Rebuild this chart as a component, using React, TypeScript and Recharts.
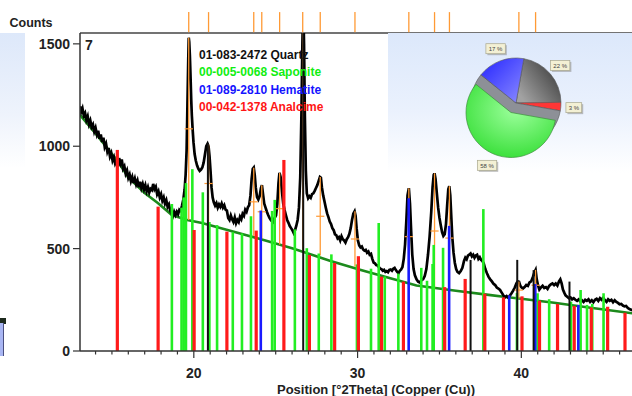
import React from 'react';
import { ComposedChart, Line, XAxis, YAxis, ReferenceLine, PieChart, Pie, Cell } from 'recharts';

// scan (2theta, counts)
const scan: [number, number][] = [
  [13.05, 1195], [13.12, 1168], [13.2, 1185], [13.28, 1150], [13.36, 1162], [13.44, 1128], [13.52, 1146], [13.6, 1108],
  [13.68, 1126], [13.76, 1094], [13.84, 1106], [13.92, 1072], [14.0, 1090], [14.08, 1058], [14.16, 1076], [14.24, 1036],
  [14.32, 1058], [14.4, 1020], [14.48, 1042], [14.56, 996], [14.64, 1012], [14.72, 974], [14.8, 992], [14.88, 950],
  [14.96, 966], [15.04, 930], [15.12, 946], [15.2, 914], [15.28, 926], [15.36, 902], [15.44, 942], [15.52, 916],
  [15.6, 936], [15.68, 890], [15.76, 902], [15.84, 866], [15.92, 882], [16.0, 846], [16.08, 862], [16.16, 830],
  [16.24, 850], [16.32, 820], [16.4, 842], [16.48, 814], [16.56, 832], [16.64, 800], [16.72, 826], [16.8, 796],
  [16.88, 816], [16.96, 790], [17.04, 810], [17.12, 780], [17.2, 800], [17.28, 774], [17.36, 792], [17.44, 786],
  [17.52, 816], [17.6, 790], [17.68, 802], [17.76, 766], [17.84, 780], [17.92, 750], [18.0, 766], [18.08, 734],
  [18.16, 750], [18.24, 720], [18.32, 736], [18.4, 704], [18.48, 716], [18.56, 686], [18.64, 670], [18.72, 658],
  [18.8, 680], [18.88, 664], [18.96, 680], [19.04, 668], [19.12, 690], [19.2, 684], [19.28, 710], [19.36, 740],
  [19.44, 790], [19.5, 860], [19.56, 980], [19.61, 1200], [19.66, 1420], [19.69, 1530], [19.72, 1510], [19.76, 1440],
  [19.8, 1340], [19.84, 1230], [19.88, 1150], [19.93, 1080], [19.98, 1020], [20.05, 962], [20.12, 930], [20.2, 906],
  [20.28, 890], [20.36, 880], [20.44, 886], [20.52, 896], [20.6, 920], [20.68, 960], [20.76, 1000], [20.84, 1012],
  [20.9, 1000], [20.96, 950], [21.02, 880], [21.08, 800], [21.15, 750], [21.22, 726], [21.3, 710], [21.38, 722],
  [21.46, 700], [21.54, 716], [21.62, 704], [21.7, 720], [21.78, 700], [21.86, 712], [21.94, 690], [22.02, 686],
  [22.1, 650], [22.18, 640], [22.26, 662], [22.34, 644], [22.42, 630], [22.5, 652], [22.58, 624], [22.66, 640],
  [22.74, 630], [22.82, 656], [22.9, 644], [22.98, 670], [23.06, 660], [23.14, 690], [23.22, 680], [23.3, 702],
  [23.38, 712], [23.46, 760], [23.53, 840], [23.6, 890], [23.66, 896], [23.72, 860], [23.78, 800], [23.86, 752],
  [23.94, 740], [24.02, 756], [24.1, 796], [24.16, 810], [24.22, 770], [24.3, 720], [24.38, 700], [24.46, 680],
  [24.54, 664], [24.62, 650], [24.7, 640], [24.78, 646], [24.86, 634], [24.94, 650], [25.02, 662], [25.1, 720],
  [25.17, 820], [25.23, 870], [25.3, 850], [25.38, 780], [25.46, 720], [25.54, 690], [25.62, 664], [25.7, 640],
  [25.78, 626], [25.86, 610], [25.94, 600], [26.02, 590], [26.1, 576], [26.18, 590], [26.26, 612], [26.34, 640],
  [26.42, 700], [26.5, 850], [26.57, 1150], [26.63, 1500], [26.68, 1700], [26.73, 1500], [26.78, 1150], [26.84, 880],
  [26.9, 770], [26.98, 746], [27.06, 756], [27.14, 748], [27.22, 766], [27.3, 770], [27.38, 782], [27.46, 796],
  [27.54, 810], [27.62, 830], [27.7, 850], [27.76, 846], [27.82, 800], [27.9, 760], [27.98, 730], [28.06, 700],
  [28.14, 672], [28.22, 654], [28.3, 632], [28.38, 620], [28.46, 600], [28.54, 590], [28.62, 570], [28.7, 566],
  [28.78, 550], [28.86, 556], [28.94, 540], [29.02, 560], [29.1, 546], [29.18, 540], [29.26, 530], [29.34, 546],
  [29.42, 556], [29.5, 572], [29.58, 600], [29.66, 640], [29.74, 670], [29.82, 682], [29.88, 660], [29.94, 600],
  [30.02, 540], [30.1, 516], [30.18, 506], [30.26, 510], [30.34, 496], [30.42, 490], [30.5, 494], [30.58, 480],
  [30.66, 486], [30.74, 470], [30.82, 474], [30.9, 450], [30.98, 432], [31.06, 428], [31.14, 420], [31.22, 418],
  [31.3, 410], [31.38, 402], [31.46, 400], [31.54, 392], [31.62, 396], [31.7, 386], [31.78, 390], [31.86, 385],
  [31.94, 396], [32.02, 398], [32.1, 392], [32.18, 402], [32.26, 406], [32.34, 395], [32.42, 386], [32.5, 380],
  [32.58, 392], [32.66, 398], [32.74, 410], [32.82, 450], [32.9, 520], [32.98, 640], [33.05, 760], [33.13, 795],
  [33.2, 720], [33.27, 590], [33.34, 470], [33.42, 400], [33.5, 370], [33.6, 350], [33.7, 338], [33.8, 334],
  [33.9, 346], [34.0, 350], [34.1, 366], [34.2, 400], [34.3, 470], [34.4, 560], [34.5, 680], [34.58, 800],
  [34.65, 860], [34.7, 868], [34.76, 840], [34.84, 770], [34.92, 700], [35.0, 650], [35.08, 614], [35.16, 580],
  [35.24, 562], [35.32, 570], [35.4, 620], [35.47, 710], [35.54, 790], [35.6, 805], [35.66, 760], [35.72, 660],
  [35.78, 560], [35.86, 480], [35.94, 430], [36.02, 400], [36.1, 386], [36.2, 380], [36.3, 390], [36.4, 406],
  [36.5, 440], [36.58, 456], [36.66, 448], [36.74, 466], [36.82, 470], [36.9, 476], [36.98, 462], [37.06, 470],
  [37.14, 455], [37.22, 466], [37.3, 470], [37.38, 450], [37.46, 458], [37.54, 445], [37.62, 440], [37.7, 428],
  [37.8, 400], [37.9, 380], [38.0, 362], [38.1, 350], [38.2, 340], [38.3, 328], [38.4, 322], [38.5, 310],
  [38.6, 305], [38.7, 298], [38.8, 285], [38.9, 272], [39.0, 262], [39.1, 268], [39.2, 260], [39.3, 270],
  [39.4, 282], [39.5, 295], [39.6, 310], [39.7, 330], [39.78, 340], [39.86, 338], [39.94, 318], [40.02, 310],
  [40.1, 305], [40.2, 312], [40.3, 322], [40.4, 318], [40.5, 335], [40.6, 340], [40.7, 360], [40.8, 385],
  [40.87, 396], [40.94, 350], [41.02, 320], [41.1, 300], [41.2, 310], [41.3, 318], [41.4, 308], [41.5, 312],
  [41.6, 303], [41.7, 318], [41.8, 325], [41.9, 330], [42.0, 322], [42.1, 330], [42.2, 320], [42.3, 340],
  [42.38, 350], [42.46, 330], [42.54, 300], [42.62, 285], [42.7, 272], [42.8, 265], [42.9, 258], [43.0, 262],
  [43.1, 252], [43.2, 258], [43.3, 250], [43.4, 245], [43.5, 252], [43.6, 242], [43.7, 248], [43.8, 240],
  [43.9, 250], [44.0, 245], [44.1, 252], [44.2, 240], [44.3, 248], [44.4, 238], [44.5, 250], [44.6, 255],
  [44.7, 245], [44.8, 258], [44.9, 250], [45.0, 260], [45.1, 248], [45.2, 240], [45.3, 252], [45.4, 245],
  [45.5, 250], [45.6, 238], [45.7, 248], [45.8, 240], [45.9, 235], [46.0, 228], [46.1, 230], [46.2, 222],
  [46.3, 218], [46.4, 220], [46.5, 210], [46.6, 205], [46.7, 202], [46.8, 198],
];

// fitted background
const background: [number, number][] = [
  [13.05, 1153], [14.0, 1062], [15.0, 962], [15.4, 923], [16.0, 848], [17.0, 772], [17.82, 722], [18.66, 664],
  [19.6, 640], [20.5, 625], [22.0, 592], [24.0, 548], [26.0, 502], [28.35, 440], [30.2, 396], [32.0, 355],
  [33.6, 320], [36.0, 294], [38.0, 274], [40.0, 255], [42.0, 236], [44.0, 214], [46.8, 184],
];

// reference patterns: [position, height]
const quartz: [number, number][] = [[20.86, 1015], [26.68, 1700], [36.9, 445], [39.75, 445], [40.75, 395], [42.94, 339]];
const saponite: [number, number][] = [
  [18.66, 718], [19.25, 700], [19.38, 750], [19.52, 820], [19.91, 888], [20.55, 775], [20.95, 630], [21.42, 615],
  [22.38, 580], [22.94, 574], [23.49, 658], [24.78, 684], [24.94, 738], [26.17, 594], [26.9, 502], [27.63, 476],
  [28.4, 472], [29.96, 423], [30.82, 402], [31.29, 625], [31.66, 364], [32.49, 378], [33.89, 406], [34.24, 343],
  [34.58, 425], [34.65, 518], [35.22, 504], [37.68, 693], [39.73, 283], [40.99, 282], [41.7, 253], [43.03, 241],
  [43.62, 298], [44.01, 225], [44.33, 230], [45.02, 282],
];
const hematite: [number, number][] = [[24.09, 686], [33.12, 746], [35.59, 611], [39.26, 272], [40.85, 327], [43.48, 225]];
const analcime: [number, number][] = [
  [15.33, 982], [17.82, 705], [20.02, 591], [22.02, 583], [23.81, 588], [25.5, 933], [27.06, 469], [28.6, 430],
  [30.05, 463], [31.46, 363], [32.8, 339], [35.32, 312], [36.57, 352], [37.77, 280], [38.91, 262], [40.04, 267],
  [41.11, 246], [42.21, 230], [43.23, 220], [44.27, 213], [45.27, 216], [46.33, 187],
];

// identified peaks: [position, background, top]
const peaks: [number, number, number][] = [
  [19.69, 640, 1530], [20.9, 626, 1010], [23.66, 562, 895], [24.15, 550, 810], [25.24, 520, 870], [26.65, 492, 1700],
  [27.72, 466, 850], [29.84, 412, 682], [33.13, 322, 795], [34.7, 304, 868], [35.61, 298, 805], [39.85, 255, 340],
  [40.87, 246, 396],
];

const phases = [
  { code: '01-083-2472', name: 'Quartz', color: '#111111' },
  { code: '00-005-0068', name: 'Saponite', color: '#11ee11' },
  { code: '01-089-2810', name: 'Hematite', color: '#1515ff' },
  { code: '00-042-1378', name: 'Analcime', color: '#ff1515' },
];

const pieData = [
  { name: 'Quartz', value: 22 },
  { name: 'Analcime', value: 3 },
  { name: 'Saponite', value: 58 },
  { name: 'Hematite', value: 17 },
];

const xTicks = Array.from({ length: 36 }, (_, i) => 14 + i);
const yTicks = [0, 500, 1000, 1500];
const X_MIN = 13.05;
const X_MAX = 49.2;
const Y_MAX = 1553;
const FONT = '"Liberation Sans", Arial, sans-serif';
const ORANGE = '#ff9a35';

const scanData = scan.map(([t, c]) => ({ t, c }));
const bgData = background.map(([t, c]) => ({ t, c }));

const sticks = [
  { list: saponite, color: '#22ee22', w: 2.6 },
  { list: analcime, color: '#ff1a1a', w: 3.2 },
  { list: hematite, color: '#1a1aff', w: 2.6 },
  { list: quartz, color: '#111111', w: 2 },
];

const XTick = (props: any) => {
  const { x, y, payload } = props;
  const major = payload.value % 10 === 0;
  return (
    <g>
      <line x1={x} x2={x} y1={y} y2={y + (major ? 7 : 3.5)} stroke="#333" strokeWidth={1.2} />
      {major && (
        <text x={x} y={y + 27} textAnchor="middle" fontSize={14} fontWeight={700} fill="#222" fontFamily={FONT}>
          {payload.value}
        </text>
      )}
    </g>
  );
};

const RAD = Math.PI / 180;
const pieLabel = (only: (n: string) => boolean) => (p: any) => {
  const name = p.name ?? p.payload?.name;
  if (!only(name)) return <g />;
  const r = p.outerRadius + 13;
  const x = p.cx + r * Math.cos(-p.midAngle * RAD);
  const y = p.cy + r * Math.sin(-p.midAngle * RAD);
  const txt = `${p.value} %`;
  const w = 5 + txt.length * 3.6;
  return (
    <g>
      <rect x={x - w / 2 + 1.5} y={y - 5 + 1.5} width={w} height={10} fill="#8a8a8a" opacity={0.55} />
      <rect x={x - w / 2} y={y - 5} width={w} height={10} fill="#f3f0d4" stroke="#a9a78e" strokeWidth={0.7} />
      <text x={x} y={y + 2.2} textAnchor="middle" fontSize={6} fill="#444" fontFamily={FONT}>{txt}</text>
    </g>
  );
};

const pieFill: Record<string, string> = {
  Quartz: 'url(#gQuartz)',
  Analcime: '#ff3636',
  Hematite: 'url(#gHem)',
};

export default function App() {
  return (
    <div style={{ position: 'absolute', left: 0, top: 0, width: 632, height: 396, overflow: 'hidden', background: '#fff', fontFamily: FONT }}>
      <ComposedChart width={680} height={396} margin={{ top: 33, right: 8, bottom: 0, left: 0 }}>
        <XAxis
          dataKey="t"
          type="number"
          domain={[X_MIN, X_MAX]}
          allowDataOverflow
          ticks={xTicks}
          interval={0}
          tickSize={0}
          tickMargin={0}
          tickLine={false}
          tick={<XTick />}
          height={45}
          axisLine={{ stroke: '#333', strokeWidth: 1.5 }}
        />
        <YAxis
          type="number"
          domain={[0, Y_MAX]}
          allowDataOverflow
          ticks={yTicks}
          interval={0}
          width={80}
          tickSize={7}
          tickMargin={3}
          axisLine={{ stroke: '#333', strokeWidth: 1.5 }}
          tickLine={{ stroke: '#333', strokeWidth: 1.2 }}
          tick={{ fill: '#222', fontSize: 14, fontWeight: 700, fontFamily: FONT }}
        />
        {/* top frame and peak markers above it */}
        <ReferenceLine y={Y_MAX} stroke="#444" strokeWidth={1.5} ifOverflow="visible" />
        {peaks.map(([t]) => (
          <ReferenceLine key={`top-${t}`} segment={[{ x: t, y: Y_MAX + 4 }, { x: t, y: Y_MAX + 102 }]} stroke={ORANGE} strokeWidth={1.3} ifOverflow="visible" />
        ))}
        <Line data={bgData} dataKey="c" type="linear" stroke="#1c8a1c" strokeWidth={2.6} dot={false} isAnimationActive={false} />
        <Line data={scanData} dataKey="c" type="linear" stroke="#000" strokeWidth={2.7} dot={false} isAnimationActive={false} />
        {peaks.map(([t, b, h]) => (
          <ReferenceLine key={`pk-${t}`} segment={[{ x: t, y: b }, { x: t, y: h }]} stroke={ORANGE} strokeWidth={1.3} ifOverflow="hidden" />
        ))}
        {peaks
          .filter(([, , h]) => h < Y_MAX)
          .map(([t, b, h]) => (
            <ReferenceLine key={`ph-${t}`} segment={[{ x: t - 0.25, y: (b + h) / 2 }, { x: t + 0.25, y: (b + h) / 2 }]} stroke={ORANGE} strokeWidth={1.2} ifOverflow="hidden" />
          ))}
        {sticks.map((s) =>
          s.list.map(([t, h]) => (
            <ReferenceLine key={`${s.color}-${t}`} segment={[{ x: t, y: 0 }, { x: t, y: h }]} stroke={s.color} strokeWidth={s.w} ifOverflow="hidden" />
          ))
        )}
      </ComposedChart>

      {/* neighbouring panels */}
      <div style={{ position: 'absolute', left: 0, top: 33, width: 25, height: 135, background: 'linear-gradient(#dde8fa, #eef3fc 60%, #ffffff)' }} />
      <div style={{ position: 'absolute', left: 0, top: 318, width: 6, height: 6, background: '#1d2a1d' }} />
      <div style={{ position: 'absolute', left: 0, top: 323, width: 3, height: 33, background: '#a9b6f3', borderRight: '1px solid #4a4f80' }} />

      {/* phase quantification pie */}
      <div style={{ position: 'absolute', left: 388, top: 33, width: 244, height: 140, background: 'linear-gradient(#dce8fb, #eaf1fd 55%, #ffffff)' }}>
        <PieChart width={244} height={140} margin={{ top: 0, right: 0, bottom: 0, left: 0 }}>
          <defs>
            <linearGradient id="gQuartz" x1="0" y1="0.7" x2="1" y2="0">
              <stop offset="0" stopColor="#a2a2a2" />
              <stop offset="1" stopColor="#2e2e2e" />
            </linearGradient>
            <linearGradient id="gHem" x1="0" y1="0" x2="1" y2="1">
              <stop offset="0" stopColor="#2424ff" />
              <stop offset="1" stopColor="#8c8cff" />
            </linearGradient>
            <radialGradient id="gSap" cx="0.55" cy="0.35" r="0.75">
              <stop offset="0" stopColor="#9cff9c" />
              <stop offset="1" stopColor="#2fdc2f" />
            </radialGradient>
          </defs>
          <Pie
            data={pieData}
            dataKey="value"
            cx={128}
            cy={70}
            outerRadius={45}
            startAngle={80}
            endAngle={-280}
            stroke="#555"
            strokeWidth={0.6}
            labelLine={false}
            label={pieLabel((n) => n !== 'Saponite')}
            isAnimationActive={false}
          >
            {pieData.map((d) => (
              <Cell key={d.name} fill={d.name === 'Saponite' ? '#8d9097' : pieFill[d.name]} />
            ))}
          </Pie>
          <Pie
            data={pieData}
            dataKey="value"
            cx={123}
            cy={79.5}
            outerRadius={45}
            startAngle={80}
            endAngle={-280}
            labelLine={false}
            label={pieLabel((n) => n === 'Saponite')}
            isAnimationActive={false}
          >
            {pieData.map((d) => (
              <Cell
                key={d.name}
                fill={d.name === 'Saponite' ? 'url(#gSap)' : 'none'}
                stroke={d.name === 'Saponite' ? '#3c8f3c' : 'none'}
                strokeWidth={0.7}
              />
            ))}
          </Pie>
        </PieChart>
      </div>

      {/* texts */}
      <svg width={632} height={396} style={{ position: 'absolute', left: 0, top: 0, pointerEvents: 'none' }}>
        <text x={9.5} y={27} fontSize={12.5} fontWeight={700} fill="#222" fontFamily={FONT}>Counts</text>
        <text x={85} y={50} fontSize={14} fontWeight={700} fill="#222" fontFamily={FONT}>7</text>
        {phases.map((p, i) => (
          <text key={p.code} x={199} y={58.5 + i * 17.5} fontSize={12} fontWeight={700} fill={p.color} fontFamily={FONT}>
            {p.code} {p.name}
          </text>
        ))}
        <text x={376} y={394} textAnchor="middle" fontSize={13} fontWeight={700} fill="#222" fontFamily={FONT}>
          Position [°2Theta] (Copper (Cu))
        </text>
      </svg>
    </div>
  );
}
